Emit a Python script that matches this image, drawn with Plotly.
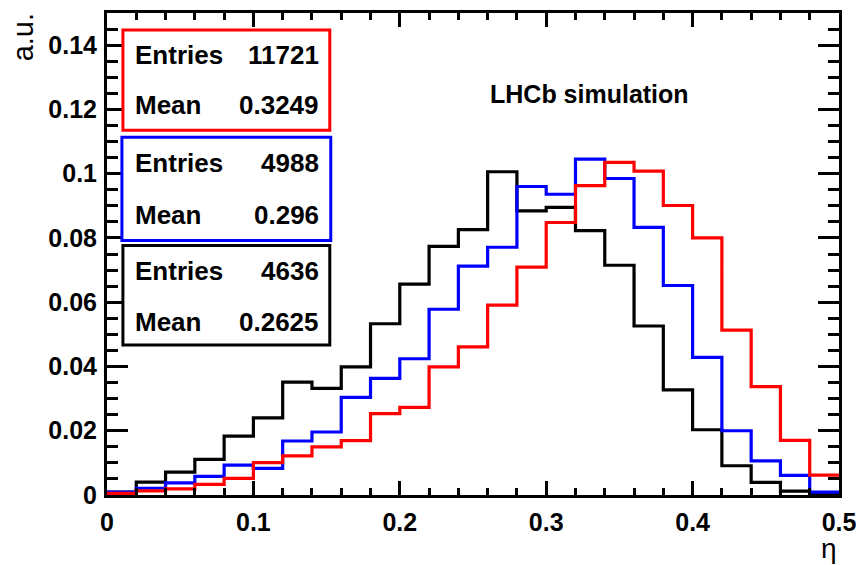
import plotly.graph_objects as go

# ---------------- data ----------------
bin_width = 0.02
bin_edges = [round(bin_width * i, 2) for i in range(26)]

red_vals = [0.0005, 0.0013, 0.0019, 0.0033, 0.0052, 0.0101, 0.0122, 0.0150, 0.0169, 0.0253,
            0.0273, 0.0399, 0.0461, 0.0591, 0.0709, 0.0848, 0.0963, 0.1035, 0.1008, 0.0901,
            0.0800, 0.0513, 0.0337, 0.0170, 0.0062]
blue_vals = [0.0009, 0.0021, 0.0038, 0.0058, 0.0093, 0.0083, 0.0168, 0.0196, 0.0304, 0.0363,
             0.0424, 0.0578, 0.0712, 0.0771, 0.0960, 0.0936, 0.1045, 0.0985, 0.0833, 0.0652,
             0.0428, 0.0200, 0.0106, 0.0061, 0.0009]
black_vals = [0.0009, 0.0040, 0.0071, 0.0111, 0.0183, 0.0240, 0.0351, 0.0332, 0.0399, 0.0533,
              0.0656, 0.0774, 0.0826, 0.1006, 0.0884, 0.0895, 0.0823, 0.0715, 0.0526, 0.0327,
              0.0203, 0.0091, 0.0039, 0.0012, 0.0003]

stats = [
    ("red", "11721", "0.3249"),
    ("blue", "4988", "0.296"),
    ("black", "4636", "0.2625"),
]

x_ticks = [0, 0.1, 0.2, 0.3, 0.4, 0.5]
x_ticklabels = ["0", "0.1", "0.2", "0.3", "0.4", "0.5"]
y_ticks = [0, 0.02, 0.04, 0.06, 0.08, 0.1, 0.12, 0.14]
y_ticklabels = ["0", "0.02", "0.04", "0.06", "0.08", "0.1", "0.12", "0.14"]

# ---------------- figure ----------------
FONT = "Liberation Sans, Arial, Helvetica, sans-serif"
fig = go.Figure()

for vals, col in [(black_vals, "black"), (blue_vals, "blue"), (red_vals, "red")]:
    fig.add_trace(go.Scatter(
        x=bin_edges, y=vals + [vals[-1]],
        mode="lines", line=dict(color=col, width=3.2, shape="hv"),
        showlegend=False, hoverinfo="skip", cliponaxis=True,
    ))

W, H = 866, 565
L, R, T, B = 107, 23, 10, 70
pw, ph = W - L - R, H - T - B

def px_x(p):
    return (p - L) / pw

def px_y(p):
    return (H - B - p) / ph

# stat boxes (pixel positions)
boxes = [(123, 331, 27, 128, 52, 103),
         (122, 332, 135, 239, 161, 213),
         (123, 331, 244, 344, 270, 321)]
for (col, ent, mean), (x0, x1, y0, y1, r1, r2) in zip(stats, boxes):
    fig.add_shape(type="rect", xref="paper", yref="paper",
                  x0=px_x(x0), x1=px_x(x1), y0=px_y(y1), y1=px_y(y0),
                  line=dict(color=col, width=3), fillcolor="white", layer="above")
    for label, val, ry in [("Entries", ent, r1), ("Mean", mean, r2)]:
        fig.add_annotation(x=px_x(133), y=px_y(ry), xref="paper", yref="paper",
                           text=label, showarrow=False, xanchor="left", yanchor="middle",
                           font=dict(family=FONT, size=26, color="black", weight="bold"))
        fig.add_annotation(x=px_x(322), y=px_y(ry), xref="paper", yref="paper",
                           text=val, showarrow=False, xanchor="right", yanchor="middle",
                           font=dict(family=FONT, size=26, color="black", weight="bold"))

fig.add_annotation(x=px_x(592), y=px_y(92), xref="paper", yref="paper",
                   text="LHCb simulation", showarrow=False, xanchor="center", yanchor="middle",
                   font=dict(family=FONT, size=25, color="black", weight="bold"))

fig.add_annotation(x=px_x(22), y=px_y(34), xref="paper", yref="paper",
                   text="a.u.", showarrow=False, textangle=-90, xanchor="center", yanchor="middle",
                   font=dict(family=FONT, size=29, color="black"))
fig.add_annotation(x=px_x(833), y=px_y(532), xref="paper", yref="paper",
                   text="η", showarrow=False,
                   xanchor="center", yanchor="top", borderpad=0,
                   font=dict(family=FONT, size=28, color="black"))

fig.update_xaxes(
    range=[0, 0.5], tickvals=x_ticks, ticktext=x_ticklabels,
    ticks="inside", ticklen=14, tickwidth=3, tickcolor="black",
    minor=dict(dtick=0.02, tick0=0, ticks="inside", ticklen=7, tickwidth=3, tickcolor="black"),
    showline=True, linewidth=3, linecolor="black", mirror="ticks",
    showgrid=False, zeroline=False,
    tickfont=dict(family=FONT, size=25, color="black", weight="bold"),
    ticklabelstandoff=3,
)
fig.update_yaxes(
    range=[0, 0.15], tickvals=y_ticks, ticktext=y_ticklabels,
    ticks="inside", ticklen=21, tickwidth=3, tickcolor="black",
    minor=dict(dtick=0.005, tick0=0, ticks="inside", ticklen=11, tickwidth=3, tickcolor="black"),
    showline=True, linewidth=3, linecolor="black", mirror="ticks",
    showgrid=False, zeroline=False,
    tickfont=dict(family=FONT, size=25, color="black", weight="bold"),
    ticklabelstandoff=2,
)

fig.update_layout(
    width=W, height=H,
    margin=dict(l=L, r=R, t=T, b=B, pad=0),
    paper_bgcolor="white", plot_bgcolor="white",
    showlegend=False,
)

fig.write_html("out.html")
